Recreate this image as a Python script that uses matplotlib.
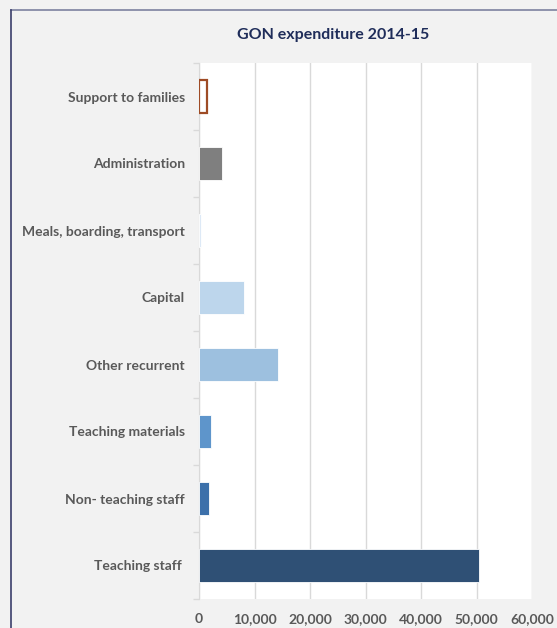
import numpy as np
import matplotlib
matplotlib.use("Agg")
import matplotlib.pyplot as plt
from matplotlib.ticker import FuncFormatter, FixedLocator

plt.rcParams['font.family'] = ['Lato', 'DejaVu Sans']

# spending by category, bottom to top
categories = ["Teaching staff ", "Non- teaching staff", "Teaching materials",
              "Other recurrent", "Capital", "Meals, boarding, transport",
              "Administration", "Support to families"]
amounts = [50500, 1800, 2200, 14200, 8100, 400, 4200, 1450]
bar_colors = ["#2f5075", "#3c70aa", "#5e95cb", "#9dc0df",
              "#bdd6ec", "#dde9f6", "#7f7f7f", "#ffffff"]
edge_colors = ["#ffffff"] * 7 + ["#9e4b25"]
x_ticks = [0, 10000, 20000, 30000, 40000, 50000, 60000]

fig = plt.figure(figsize=(5.57, 6.28), dpi=100)
fig.patch.set_facecolor("#f2f2f2")

# chart frame (top and left edges visible)
fig.add_artist(plt.Line2D([11 / 557, 1.0], [1 - 10 / 628] * 2, color="#7d82a0", lw=1.2,
                          transform=fig.transFigure))
fig.add_artist(plt.Line2D([11 / 557] * 2, [0.0, 1 - 10 / 628], color="#3b3f6b", lw=1.2,
                          transform=fig.transFigure))

ax = fig.add_axes([199 / 557, 1 - 599 / 628, (532 - 199) / 557, (599 - 63) / 628])
ax.set_facecolor("white")

y = np.arange(len(categories))
ax.barh(y, amounts, height=0.48, color=bar_colors, edgecolor=edge_colors,
        linewidth=[0.6] * 7 + [1.6], zorder=3)

ax.set_xlim(0, 60000)
ax.set_ylim(-0.5, len(categories) - 0.5)
ax.xaxis.set_major_locator(FixedLocator(x_ticks))
ax.xaxis.set_major_formatter(FuncFormatter(lambda v, p: f"{int(v):,}"))
ax.grid(axis="x", color="#d9d9d9", lw=1, zorder=0)

ax.set_yticks(y)
ax.set_yticklabels(categories)
ax.set_yticks(np.arange(-0.5, len(categories)), minor=True)
ax.tick_params(axis="y", which="major", length=0, pad=10)
ax.tick_params(axis="y", which="minor", length=4, color="#d9d9d9", width=1)
ax.tick_params(axis="x", length=0, pad=10)

for lab in ax.get_yticklabels() + ax.get_xticklabels():
    lab.set_fontsize(10)
    lab.set_fontweight("bold")
    lab.set_color("#595959")

for side in ["top", "right", "bottom"]:
    ax.spines[side].set_visible(False)
ax.spines["left"].set_color("#d9d9d9")

fig.text(333 / 557, 1 - 35 / 628, "GON expenditure 2014-15", ha="center", va="center",
         fontsize=11.5, fontweight="bold", color="#1f2d5a")

fig.savefig("out.png", dpi=100, facecolor=fig.get_facecolor())
